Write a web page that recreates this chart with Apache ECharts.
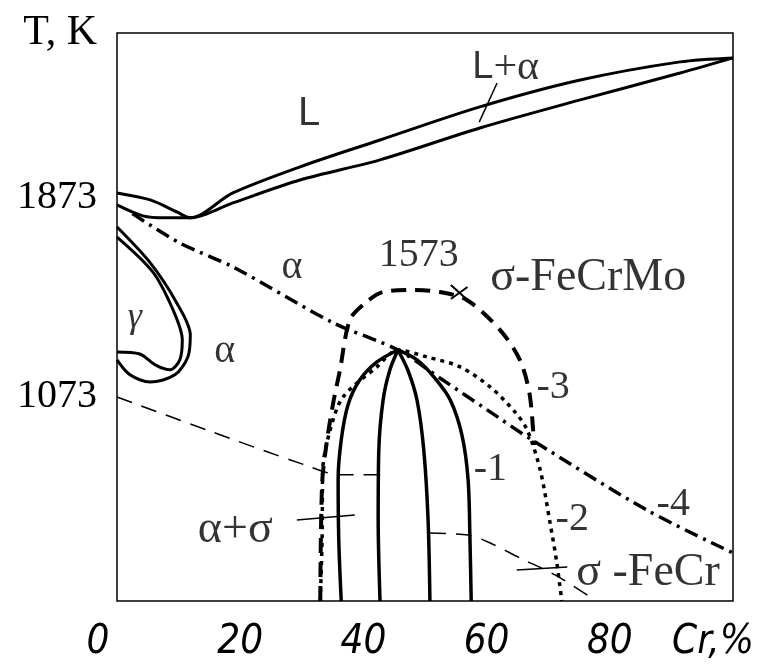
<!DOCTYPE html>
<html>
<head>
<meta charset="utf-8">
<script src="https://cdn.jsdelivr.net/npm/echarts@6/dist/echarts.min.js"></script>
<style>html,body{margin:0;padding:0;background:#fff}#c{width:762px;height:664px}</style>
</head>
<body>
<div id="c"></div>
<script>
// ---- data (Cr %, T K) ----
var xTickValues = [0, 20, 40, 60, 80, 100];
var xTickLabels = ['0', '20', '40', '60', '80', 'Cr,%'];
var yTickValues = [1073, 1873];
var yTickLabels = ['1073', '1873'];

var liquidus = [[0,1893],[5.4,1865],[9.7,1817],[11.9,1793],[18.8,1893],[29.7,1998],[42.7,2106],[58.9,2239],[75.2,2347],[91.4,2420],[100,2436]];
var solidus = [[0,1845],[4.2,1801],[7.8,1793],[11.9,1793],[18.8,1853],[29.7,1945],[42.7,2026],[58.9,2154],[75.2,2267],[91.4,2375],[100,2436]];

var gammaOuter = [[0,1756],[5.4,1612],[9.7,1451],[11.9,1322],[11.5,1234],[9.4,1162],[5.4,1133],[2.1,1162],[0,1222]];
var gammaInner = [[0,1716],[5.8,1576],[9.1,1423],[10.6,1302],[10.2,1222],[8.6,1182],[6.2,1202],[3.7,1246],[0,1254]];

var curve4 = [[2.5,1810],[10.2,1692],[18.8,1596],[35.1,1371],[45.6,1262],[52.9,1141],[60.1,1021],[67.4,900],[86.0,619],[100,446]];
var curve2 = [[33.0,253],[33.3,510],[33.4,780],[34.6,940],[36.7,1073],[42.2,1194],[45.6,1262],[50.3,1234],[55.7,1194],[60.6,1113],[64.6,1013],[66.6,940],[68.7,780],[70.3,567],[71.4,406],[72.2,253]];
var curve3 = [[33.0,253],[33.3,727],[34.1,900],[35.1,1049],[36.2,1182],[37.8,1383],[40.3,1451],[43.2,1495],[47.6,1503],[52.4,1495],[56.8,1463],[62.2,1342],[65.4,1222],[67.0,1081],[67.7,880]];

var curve1OuterLeft = [[45.6,1262],[42.2,1214],[39.4,1141],[37.5,1041],[36.4,900],[35.9,740],[36.0,499],[36.4,253]];
var curve1InnerLeft = [[45.6,1262],[44.3,1182],[43.2,1061],[42.5,860],[42.4,579],[42.7,253]];
var curve1InnerRight = [[45.6,1262],[47.2,1182],[48.7,1061],[49.8,860],[50.5,579],[50.8,253]];
var curve1OuterRight = [[45.6,1262],[48.7,1222],[51.6,1149],[54.1,1061],[56.0,920],[57.0,740],[57.3,499],[57.5,253]];

var feCrLeft = [[0,1073],[14.6,940],[30.5,800],[36.2,760],[42.4,760]];
var feCrRight = [[50.8,526],[57.0,518],[60.6,486],[65.4,426],[71.1,358],[77.6,257]];

var leaderAlphaSigma = [[29.2,579],[38.6,599]];
var leaderSigmaFeCr = [[64.9,378],[73.1,390]];
var leaderLAlpha = [[61.7,2335],[58.8,2178]];
var crossA = [[54.2,1523],[56.9,1463]];
var crossB = [[54.2,1467],[56.9,1515]];

var annText = ['L', '{s|L}{r|+α}', 'α', '1573', 'σ-FeCrMo', 'σ -FeCr', '-1', '-2', '-3', '-4', 'α+σ', 'γ', 'α'];
var annCr   = [31.2, 63.1, 28.4, 49.0, 76.5, 86.2, 60.6, 73.9, 70.8, 90.3, 19.2, 2.9, 17.5];
var annT    = [2211, 2396, 1592, 1640, 1551, 365, 780, 579, 1113, 639, 538, 1391, 1254];
var annSize = [40, 40, 40, 40, 46, 46, 40, 40, 40, 40, 46, 36, 40];

// ---- chart ----
var SERIF = "'Liberation Serif','Times New Roman',serif";
var SANS = "'Liberation Sans',Arial,sans-serif";
var NARROW = "'Liberation Sans Narrow','DejaVu Sans Condensed',sans-serif";

function line(data, width, type) {
  return {
    type: 'line', data: data, symbol: 'none', smooth: 0.3, silent: true,
    lineStyle: { color: '#000', width: width, type: type || 'solid' },
    z: 3
  };
}

var annData = annText.map(function (t, i) {
  var item = { value: [annCr[i], annT[i]], label: { formatter: t, fontSize: annSize[i] } };
  if (t === 'L') item.label.fontFamily = SANS;
  if (t === 'γ') item.label.fontStyle = 'italic';
  return item;
});

var chart = echarts.init(document.getElementById('c'), null, { renderer: 'canvas' });
chart.setOption({
  animation: false,
  backgroundColor: '#fff',
  grid: { left: 117, right: 29, top: 33, bottom: 63, show: true, borderColor: '#000', borderWidth: 1.5, backgroundColor: 'transparent' },
  xAxis: {
    type: 'value', min: 0, max: 100, interval: 20,
    axisLine: { show: false }, axisTick: { show: false }, splitLine: { show: false },
    axisLabel: {
      margin: 22,
      formatter: function (v) {
        var i = xTickValues.indexOf(v);
        var t = i >= 0 ? xTickLabels[i] : '';
        if (v === 0) return '{z|' + t + '}';
        if (v === 100) return '{c|' + t + '}';
        return '{n|' + t + '}';
      },
      rich: {
        n: { fontFamily: NARROW, fontStyle: 'italic', fontSize: 40, color: '#000' },
        z: { fontFamily: NARROW, fontStyle: 'italic', fontSize: 40, color: '#000', padding: [0, 38, 0, 0] },
        c: { fontFamily: NARROW, fontStyle: 'italic', fontSize: 40, color: '#000', padding: [0, 40, 0, 0] }
      }
    }
  },
  yAxis: {
    type: 'value', min: 253, max: 2536,
    name: 'T, K', nameLocation: 'end', nameGap: 0,
    nameTextStyle: { fontFamily: SERIF, fontSize: 42, color: '#000', align: 'right', verticalAlign: 'middle', padding: [0, 20, 0, 0] },
    axisLine: { show: false }, axisTick: { show: false }, splitLine: { show: false },
    axisLabel: {
      customValues: yTickValues,
      margin: 20,
      fontFamily: SERIF, fontSize: 40, color: '#000',
      formatter: function (v) {
        var i = yTickValues.indexOf(v);
        return i >= 0 ? yTickLabels[i] : '';
      }
    }
  },
  series: [
    line(liquidus, 3),
    line(solidus, 3),
    line(gammaOuter, 3),
    line(gammaInner, 3),
    line(curve4, 3.5, [14, 6, 3, 6]),
    line(curve2, 3.5, [4, 5]),
    line(curve3, 4, [15, 9]),
    line(curve1OuterLeft, 3.5),
    line(curve1InnerLeft, 3.5),
    line(curve1InnerRight, 3.5),
    line(curve1OuterRight, 3.5),
    line(feCrLeft, 1.5, [16, 10]),
    line(feCrRight, 1.5, [16, 10]),
    line(leaderAlphaSigma, 1.5),
    line(leaderSigmaFeCr, 1.5),
    line(leaderLAlpha, 1.5),
    line(crossA, 2),
    line(crossB, 2),
    {
      type: 'scatter', data: annData, symbolSize: 1, silent: true, z: 5,
      itemStyle: { color: 'rgba(0,0,0,0)' },
      label: {
        show: true, position: 'inside', color: '#000', fontFamily: SERIF, fontSize: 40,
        rich: {
          s: { fontFamily: SANS, fontSize: 38, color: '#000' },
          r: { fontFamily: SERIF, fontSize: 42, color: '#000' }
        }
      }
    }
  ]
});
</script>
</body>
</html>
